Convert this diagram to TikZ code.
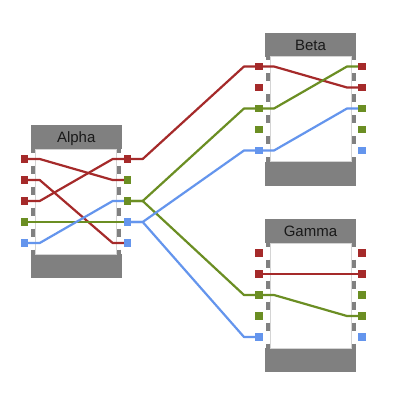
\documentclass[tikz,border=0pt]{standalone}
\usepackage{fontspec}
\setmainfont{Liberation Sans}
\definecolor{cred}{HTML}{A52A2A}
\definecolor{cgreen}{HTML}{6B8E23}
\definecolor{cblue}{HTML}{6495ED}
\definecolor{boxgray}{HTML}{808080}
\definecolor{rimgray}{HTML}{D4D4D4}
\tikzset{
  wire/.style={line width=2.2pt, line join=round},
  port/.style={rectangle, minimum size=7.5pt, inner sep=0pt, draw=none},
  titlefont/.style={font=\fontsize{15}{17}\selectfont, text=black!90, anchor=base},
}
% #1 name, #2 left x, #3 top y, #4 title
\newcommand\mkblock[4]{%
  \fill[boxgray] (#2,#3) rectangle (#2+91,#3+153);
  \fill[white] (#2,#3+24) rectangle (#2+91,#3+129);
  \draw[rimgray, line width=0.8pt, fill=white] (#2+5,#3+24) rectangle (#2+86,#3+129);
  \draw[boxgray, line width=4pt, dash pattern=on 8pt off 13pt, dash phase=4.5pt] (#2+2.5,#3+24) -- (#2+2.5,#3+129);
  \draw[boxgray, line width=4pt, dash pattern=on 8pt off 13pt, dash phase=4.5pt] (#2+88.5,#3+24) -- (#2+88.5,#3+129);
  \node[titlefont] (#1title) at (#2+45.5,#3+17.5) {#4};
  \foreach \k in {1,...,5} {
    \coordinate (#1L\k) at (#2-6,#3+13+21*\k);
    \coordinate (#1R\k) at (#2+97,#3+13+21*\k);
  }
}
% #1 color, #2 from, #3 to
\newcommand\mkwire[3]{%
  \draw[wire,#1] (#2) -- ++(15,0) -- ([xshift=-15pt]#3) -- (#3);
}
% #1 name, #2 list of left colors, #3 list of right colors
\newcommand\mkports[3]{%
  \foreach \c [count=\k] in {#2} { \node[port, fill=\c] (#1Lp\k) at (#1L\k) {}; }
  \foreach \c [count=\k] in {#3} { \node[port, fill=\c] (#1Rp\k) at (#1R\k) {}; }
}
\begin{document}
\begin{tikzpicture}[x=1pt,y=-1pt]
\useasboundingbox (0,0) rectangle (400,400);
\fill[white] (0,0) rectangle (400,400);
\mkblock{a}{30.7}{125}{Alpha}
\mkblock{b}{265}{32.5}{Beta}
\mkblock{g}{265}{219}{Gamma}
% Alpha internal
\mkwire{cred}{aL1}{aR2}
\mkwire{cred}{aL2}{aR5}
\mkwire{cred}{aL3}{aR1}
\mkwire{cgreen}{aL4}{aR4}
\mkwire{cblue}{aL5}{aR3}
% external
\mkwire{cred}{aR1}{bL1}
\mkwire{cgreen}{aR3}{bL3}
\mkwire{cgreen}{aR3}{gL3}
\mkwire{cblue}{aR4}{bL5}
\mkwire{cblue}{aR4}{gL5}
% Beta internal
\mkwire{cred}{bL1}{bR2}
\mkwire{cgreen}{bL3}{bR1}
\mkwire{cblue}{bL5}{bR3}
% Gamma internal
\mkwire{cred}{gL2}{gR2}
\mkwire{cgreen}{gL3}{gR4}
% ports
\mkports{a}{cred,cred,cred,cgreen,cblue}{cred,cgreen,cgreen,cblue,cblue}
\mkports{b}{cred,cred,cgreen,cgreen,cblue}{cred,cred,cgreen,cgreen,cblue}
\mkports{g}{cred,cred,cgreen,cgreen,cblue}{cred,cred,cgreen,cgreen,cblue}
\end{tikzpicture}
\end{document}
